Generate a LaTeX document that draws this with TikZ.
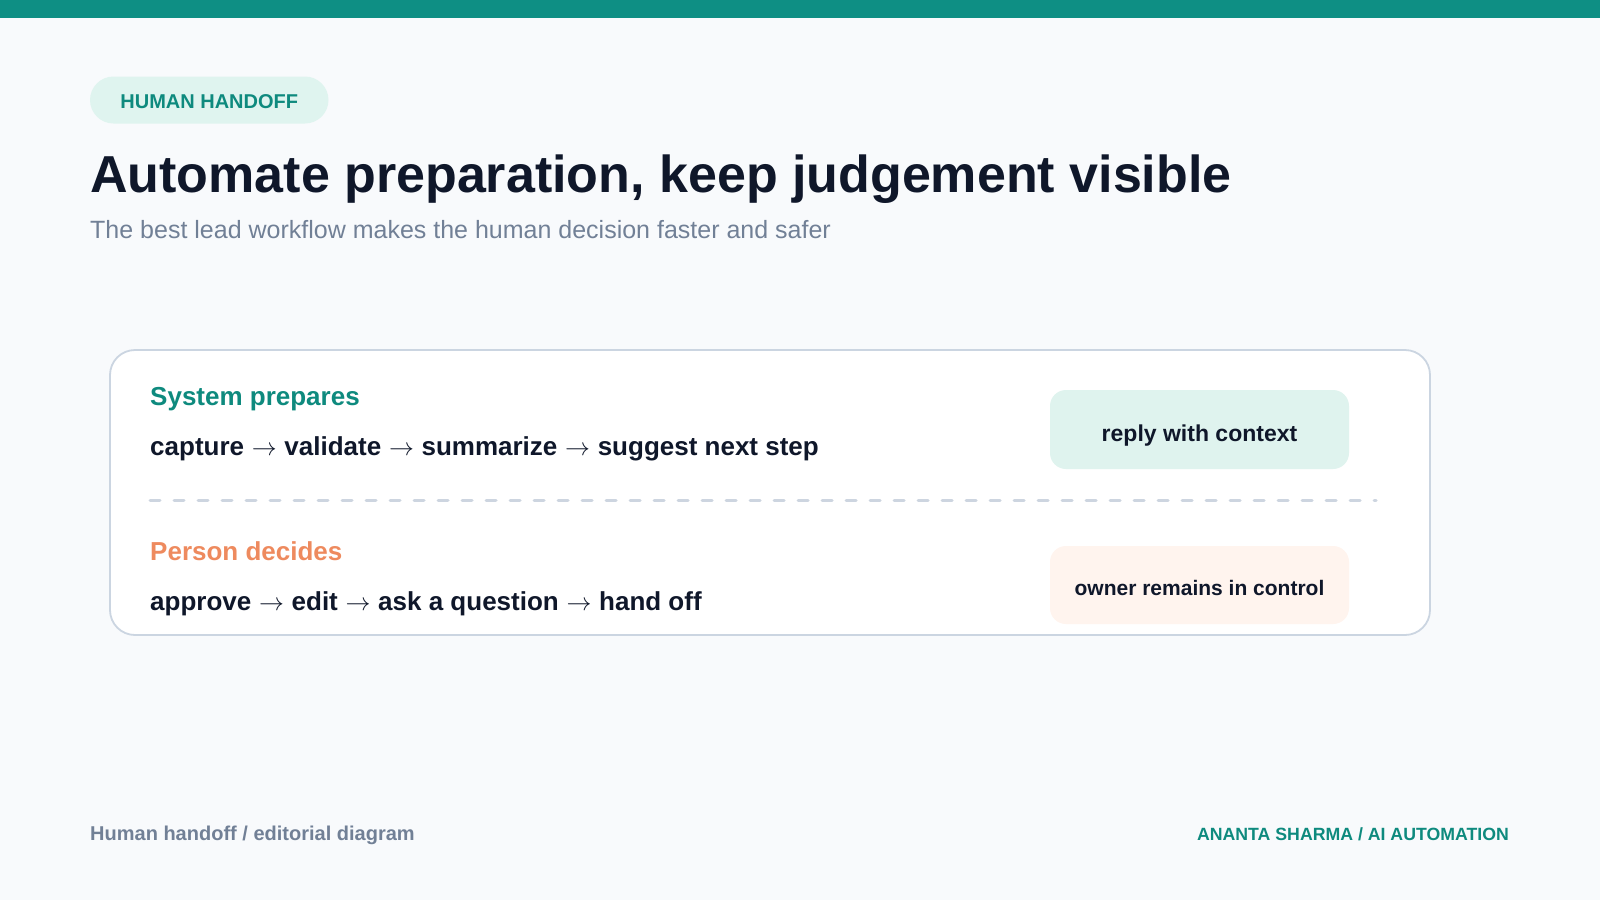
\documentclass[tikz,border=0pt]{standalone}
\usepackage{fontspec}
\setmainfont{Liberation Sans}
\definecolor{bgc}{HTML}{F8FAFC}
\definecolor{tealc}{HTML}{0E8F84}
\definecolor{tealt}{HTML}{0E8A7E}
\definecolor{pillc}{HTML}{DFF4EF}
\definecolor{navy}{HTML}{0F172A}
\definecolor{slatec}{HTML}{718096}
\definecolor{linec}{HTML}{CBD5E1}
\definecolor{dashc}{HTML}{CDD5E0}
\definecolor{orangec}{HTML}{EE8A5E}
\definecolor{replyc}{HTML}{DFF3EE}
\definecolor{ownerc}{HTML}{FFF4EE}
\newcommand{\flowarrow}{\hspace{0.5pt}$\rightarrow$\hspace{0.5pt}}
\begin{document}
\begin{tikzpicture}[x=1pt,y=-1pt,
  txt/.style={inner sep=0pt, anchor=base west},
  fs/.style={font=\fontsize{#1}{#1}\selectfont},
  fsb/.style={font=\fontsize{#1}{#1}\selectfont\bfseries},
  sidebox/.style={inner sep=0pt, minimum width=299pt, rounded corners=16pt},
  boxtext/.style={inner sep=0pt, text=navy}]
\useasboundingbox (0,0) rectangle (1600,900);
\fill[bgc] (0,0) rectangle (1600,900);
\fill[tealc] (0,0) rectangle (1600,18);
% pill
\node[fill=pillc, inner sep=0pt, minimum width=238.5pt, minimum height=47pt, rounded corners=23.5pt] (pill) at (209.25,100) {};
\node[inner sep=0pt, text=tealt, fsb=20, yshift=-2pt] (pilltext) at (pill.center) {HUMAN HANDOFF};
% title
\node[txt, fsb=52, text=navy] (title) at (90,192) {Automate preparation, keep judgement visible};
\node[txt, fs=25, text=slatec] (subtitle) at (90,238) {The best lead workflow makes the human decision faster and safer};
% card
\node[draw=linec, line width=1.8pt, fill=white, rounded corners=25pt, minimum width=1320pt, minimum height=285pt, inner sep=0pt] (card) at (770,492.5) {};
\node[txt, fsb=26, text=tealt] (sys) at (150,405) {System prepares};
\node[txt, fsb=26, text=navy] (sysflow) at (150,455) {capture \flowarrow{} validate \flowarrow{} summarize \flowarrow{} suggest next step};
\coordinate (dl) at (150,500);
\coordinate (dr) at (1376,500);
\draw[dashc, line width=3pt, line cap=round, dash pattern=on 10pt off 14pt] (dl) -- (dr);
\node[txt, fsb=26, text=orangec] (per) at (150,560) {Person decides};
\node[txt, fsb=26, text=navy] (perflow) at (150,610) {approve \flowarrow{} edit \flowarrow{} ask a question \flowarrow{} hand off};
\node[sidebox, fill=replyc, minimum height=79pt] (reply) at (1199.5,429.5) {};
\node[boxtext, fsb=23, yshift=-6.5pt] (replytext) at (reply.center) {reply with context};
\node[sidebox, fill=ownerc, minimum height=78pt] (owner) at (1199.5,585) {};
\node[boxtext, fsb=21, yshift=-3pt] (ownertext) at (owner.center) {owner remains in control};
% footer
\node[txt, fsb=20, text=slatec] (footl) at (90,840) {Human handoff / editorial diagram};
\node[inner sep=0pt, anchor=base east, fsb=17.7, text=tealt] (footr) at (1509,840) {ANANTA SHARMA / AI AUTOMATION};
\end{tikzpicture}
\end{document}
